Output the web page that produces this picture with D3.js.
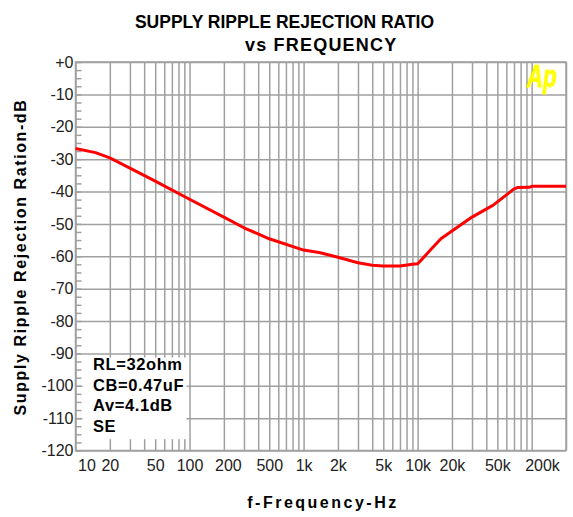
<!DOCTYPE html>
<html>
<head>
<meta charset="utf-8">
<script src="https://cdn.jsdelivr.net/npm/d3@7"></script>
<style>
  body { margin: 0; background: #fff; }
  text { font-family: "Liberation Sans", Arial, sans-serif; }
</style>
</head>
<body>
<div id="chart"></div>
<script>
// frequency (Hz) and supply ripple rejection (dB)
const freqHz = [10, 15, 20, 30, 50, 100, 200, 300, 500, 1000, 1400, 2000, 3000, 4000, 5000, 7000, 9000, 10000, 11000, 13000, 16000, 20000, 30000, 46000, 70000, 75000, 95000, 100000, 200000];
const rejectionDb = [-26.7, -28.0, -29.6, -32.8, -36.8, -42.4, -47.9, -51.2, -54.6, -58.1, -58.9, -60.3, -62.0, -62.8, -63.0, -63.0, -62.5, -62.3, -60.8, -58.0, -54.6, -52.2, -47.9, -44.2, -39.2, -38.8, -38.7, -38.4, -38.4];

const xTickValues = [10, 20, 50, 100, 200, 500, 1000, 2000, 5000, 10000, 20000, 50000, 200000];
const xTickLabels = ["10", "20", "50", "100", "200", "500", "1k", "2k", "5k", "10k", "20k", "50k", "200k"];
const yTickValues = [0, -10, -20, -30, -40, -50, -60, -70, -80, -90, -100, -110, -120];
const yTickLabels = ["+0", "-10", "-20", "-30", "-40", "-50", "-60", "-70", "-80", "-90", "-100", "-110", "-120"];
const notes = ["RL=32ohm", "CB=0.47uF", "Av=4.1dB", "SE"];

const width = 573, height = 517;
const margin = { top: 62, right: 7, bottom: 66.5, left: 75.5 };
const plotW = width - margin.left - margin.right;
const plotH = height - margin.top - margin.bottom;
const gridColor = "#a0a0a0";

const svg = d3.select("#chart").append("svg")
  .attr("width", width)
  .attr("height", height)
  .style("background", "#fff");

const x = d3.scaleLog().domain([10, 200000]).range([0, plotW]);
const y = d3.scaleLinear().domain([0, -120]).range([0, plotH]);

const g = svg.append("g").attr("transform", `translate(${margin.left},${margin.top})`);

// vertical grid, one line per 1..9 of each decade
g.append("g")
  .attr("transform", `translate(0,${plotH})`)
  .call(d3.axisBottom(x).tickValues(x.ticks()).tickSize(-plotH).tickFormat(""))
  .call(a => a.select(".domain").remove())
  .selectAll("line").attr("stroke", gridColor).attr("stroke-width", 1.5);

// horizontal grid
g.append("g")
  .call(d3.axisLeft(y).tickValues(yTickValues).tickSize(-plotW).tickFormat(""))
  .call(a => a.select(".domain").remove())
  .selectAll("line").attr("stroke", gridColor).attr("stroke-width", 1.5);

// small ticks every 2.5 dB on the left edge
g.append("g")
  .call(d3.axisRight(y).tickValues(d3.range(0, -120.1, -2.5)).tickSize(6).tickFormat(""))
  .call(a => a.select(".domain").remove())
  .selectAll("line").attr("stroke", gridColor).attr("stroke-width", 1.5);

// frame
g.append("rect")
  .attr("width", plotW).attr("height", plotH)
  .attr("fill", "none").attr("stroke", gridColor).attr("stroke-width", 1.5);

// white box behind the conditions text
g.append("rect")
  .attr("x", 7).attr("y", y(-91.3))
  .attr("width", 104).attr("height", y(-116.5) - y(-91.3))
  .attr("fill", "#fff");

// x tick labels
const xAxis = g.append("g")
  .attr("transform", `translate(0,${plotH})`)
  .call(d3.axisBottom(x).tickValues(xTickValues).tickSize(0).tickPadding(9)
    .tickFormat((d, i) => xTickLabels[i]));
xAxis.select(".domain").remove();
xAxis.selectAll("text")
  .attr("font-size", 16).attr("fill", "#222")
  .style("font-family", "'Liberation Sans', Arial, sans-serif")
  .attr("dx", d => d === 10 ? 11 : d === 200000 ? -24 : d === 200 ? 4 : 0);

// y tick labels
const yAxis = g.append("g")
  .call(d3.axisLeft(y).tickValues(yTickValues).tickSize(0).tickPadding(2)
    .tickFormat((d, i) => yTickLabels[i]));
yAxis.select(".domain").remove();
yAxis.selectAll("text")
  .attr("font-size", 16).attr("fill", "#222")
  .style("font-family", "'Liberation Sans', Arial, sans-serif");

// the curve
const line = d3.line()
  .x((d, i) => x(freqHz[i]))
  .y(d => y(d));

g.append("path")
  .datum(rejectionDb)
  .attr("fill", "none")
  .attr("stroke", "#ff0000")
  .attr("stroke-width", 3)
  .attr("stroke-linejoin", "round")
  .attr("d", line);

// conditions text
g.append("g").selectAll("text")
  .data(notes)
  .join("text")
  .attr("x", 17.5)
  .attr("y", (d, i) => 308 + i * 20.7)
  .attr("font-size", 16.5)
  .attr("font-weight", "bold")
  .attr("letter-spacing", 0.6)
  .attr("fill", "#000")
  .text(d => d);

// Ap logo
svg.append("text")
  .attr("x", 527).attr("y", 87)
  .attr("font-size", 31)
  .attr("font-weight", "bold")
  .attr("font-style", "italic")
  .attr("textLength", 30)
  .attr("lengthAdjust", "spacingAndGlyphs")
  .attr("fill", "#ffff00")
  .attr("stroke", "#ffff00")
  .attr("stroke-width", 0.8)
  .text("Ap");

// titles
svg.append("text")
  .attr("x", 284.5).attr("y", 28)
  .attr("text-anchor", "middle")
  .attr("font-size", 17.5).attr("font-weight", "bold")
  .text("SUPPLY RIPPLE REJECTION RATIO");

svg.append("text")
  .attr("x", 245).attr("y", 51)
  .attr("font-size", 18).attr("font-weight", "bold")
  .attr("letter-spacing", 1.2)
  .text("vs FREQUENCY");

svg.append("text")
  .attr("x", 323).attr("y", 508)
  .attr("text-anchor", "middle")
  .attr("font-size", 16).attr("font-weight", "bold")
  .attr("letter-spacing", 2.5)
  .text("f-Frequency-Hz");

svg.append("text")
  .attr("transform", "translate(26,257) rotate(-90)")
  .attr("text-anchor", "middle")
  .attr("font-size", 16).attr("font-weight", "bold")
  .attr("letter-spacing", 1.6)
  .text("Supply Ripple Rejection Ration-dB");
</script>
</body>
</html>
